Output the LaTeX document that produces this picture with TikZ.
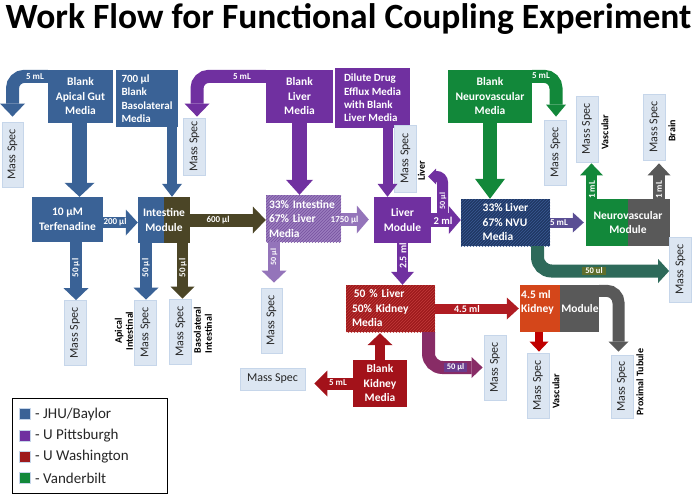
\documentclass[tikz,border=0pt]{standalone}
\usepackage{fontspec}
\setmainfont{Carlito}
\usetikzlibrary{arrows.meta,patterns}
\definecolor{jhu}{HTML}{3A6296}
\definecolor{pur}{HTML}{7030A0}
\definecolor{oliv}{HTML}{4B4526}
\definecolor{grn}{HTML}{12883A}
\definecolor{navy}{HTML}{1F3864}
\definecolor{navyl}{HTML}{3A5A94}
\definecolor{dred}{HTML}{9E1A1C}
\definecolor{dredl}{HTML}{C23A3A}
\definecolor{kred}{HTML}{A3121A}
\definecolor{red2}{HTML}{C00000}
\definecolor{orng}{HTML}{D4461A}
\definecolor{gry}{HTML}{595959}
\definecolor{msf}{HTML}{DCE6F2}
\definecolor{msb}{HTML}{C6D6EA}
\definecolor{lpur}{HTML}{9A7CBE}
\definecolor{lpurl}{HTML}{76519F}
\definecolor{hpur}{HTML}{9474BA}
\definecolor{bpur}{HTML}{5A4E94}
\definecolor{teal2}{HTML}{2E6A5A}
\definecolor{hred}{HTML}{B01C22}
\definecolor{pred}{HTML}{882C66}
\definecolor{lblg}{HTML}{5E6E2C}
\definecolor{lblp}{HTML}{6A3C8E}
\newcommand{\MSt}{\rotatebox{90}{Mass Spec}}
\tikzset{
  box/.style={inner sep=0pt, text=white, font=\fontsize{11.5}{14.5}\selectfont\bfseries, align=center},
  msbox/.style={draw=msb, fill=msf, line width=0.8pt, font=\fontsize{12}{14}\selectfont, text=black!85, minimum width=22pt, minimum height=65pt, inner sep=0pt},
  qty/.style={text=white, font=\fontsize{9}{10}\selectfont\bfseries, inner sep=0.5pt},
  side/.style={text=black, font=\fontsize{10}{11}\selectfont\bfseries, rotate=90, align=center, inner sep=0pt},
  fa/.style n args={3}{line width=#1, -{Triangle[width=#2,length=#3,line width=0pt]}},
  legt/.style={anchor=west, font=\fontsize{15}{16}\selectfont, text=black!85, inner sep=0pt},
  legsq/.style={draw=msb, line width=0.6pt, minimum size=11pt, inner sep=0pt}
}
\begin{document}
\begin{tikzpicture}[x=1pt,y=-1pt]
\useasboundingbox (0,0) rectangle (697,495);
\fill[white] (0,0) rectangle (697,495);

\node[font=\fontsize{35.5}{38}\selectfont\bfseries, inner sep=0pt] (title) at (348.5,19) {Work Flow for Functional Coupling Experiment};

% ---------- boxes ----------
\node[box, fill=jhu, minimum width=65pt, minimum height=53pt] (apical) at (80.5,96.5) {Blank\\Apical Gut\\Media};
\node[box, fill=jhu, minimum width=62pt, minimum height=57pt, align=left, font=\fontsize{11}{13.5}\selectfont\bfseries] (baso) at (147,98.5) {700 µl\\Blank\\Basolateral\\Media};
\node[box, fill=pur, minimum width=67pt, minimum height=53pt] (bliver) at (299.5,96.5) {Blank\\Liver\\Media};
\node[box, fill=pur, minimum width=75pt, minimum height=60pt, align=left, font=\fontsize{11}{13.3}\selectfont\bfseries] (dilute) at (372.5,98) {Dilute Drug\\Efflux Media\\with Blank\\Liver Media};
\node[box, fill=grn, minimum width=84pt, minimum height=53pt] (bnv) at (490,96.5) {Blank\\Neurovascular\\Media};

\node[box, fill=jhu, minimum width=71pt, minimum height=45pt] (terf) at (67.5,219.5) {10 µM\\Terfenadine};
\node[box, fill=jhu, minimum width=52pt, minimum height=46pt,
  path picture={\fill[oliv] (path picture bounding box.north) rectangle (path picture bounding box.south east);}] (intest) at (164,220) {Intestine\\Module};
\node[box, fill=lpur, postaction={pattern=north east lines, pattern color=lpurl}, minimum width=75pt, minimum height=47pt, text width=69pt, inner xsep=3pt, align=left] (mix1) at (303.5,218.5) {33\% Intestine\\67\% Liver\\Media};
\node[box, fill=pur, minimum width=57pt, minimum height=46pt] (livermod) at (402.5,220) {Liver\\Module};
\node[box, fill=navy, postaction={pattern=north east lines, pattern color=navyl}, minimum width=89pt, minimum height=47pt, align=left] (nvumix) at (505.5,222.5) {33\% Liver\\67\% NVU\\Media};
\node[box, fill=grn, minimum width=84pt, minimum height=47pt,
  path picture={\fill[gry] (path picture bounding box.north) rectangle (path picture bounding box.south east);}] (nvmod) at (628,222.5) {Neurovascular\\Module};

\node[box, fill=dred, postaction={pattern=north east lines, pattern color=dredl}, minimum width=89pt, minimum height=47pt, text width=77pt, inner xsep=6pt, align=left] (kmix) at (390.5,308.5) {\,50 \% Liver\\50\% Kidney\\Media};
\node[box, fill=orng, minimum width=79pt, minimum height=47pt,
  path picture={\fill[gry] (path picture bounding box.north) rectangle (path picture bounding box.south east);}] (kidney) at (559.5,308.5) {};
\node[box, anchor=west, align=left] (kt) at (521,308.5) {4.5 ml\\Kidney\\\mbox{}};
\node[box] (km) at (580,308.5) {Module};
\node[box, fill=kred, minimum width=54pt, minimum height=47pt] (bkidney) at (380,383.5) {Blank\\Kidney\\Media};

% ---------- mass spec ----------
\node[msbox, minimum width=21pt] (ms1) at (12.5,154.5) {\MSt};
\node[msbox, minimum height=57pt] (msp1) at (194.5,146.5) {\MSt};
\node[msbox, minimum height=67pt] (msl) at (405.5,158.5) {\MSt};
\node[msbox] (msnv) at (555.5,152.5) {\MSt};
\node[msbox, minimum height=66pt] (msva) at (587,129) {\MSt};
\node[msbox, minimum height=66pt] (msbr) at (654.5,127) {\MSt};
\node[msbox] (mst) at (75,333) {\MSt};
\node[msbox] (msa) at (145.5,332.5) {\MSt};
\node[msbox] (msb) at (180.5,331.5) {\MSt};
\node[msbox, minimum width=21pt] (msm) at (271.5,320.5) {\MSt};
\node[msbox] (msr) at (680.5,269.5) {\MSt};
\node[msbox, minimum width=65pt, minimum height=22pt] (mskl) at (272.5,379) {Mass Spec};
\node[msbox] (msk) at (495,367.5) {\MSt};
\node[msbox] (mskv) at (538,385.5) {\MSt};
\node[msbox, minimum height=63pt] (mskp) at (622,386.5) {\MSt};

% ---------- side labels ----------
\node[side] (lliv) at (421.5,171) {Liver};
\node[side] (lva) at (605,132) {Vascular};
\node[side] (lbr) at (672,131) {Brain};
\node[side] (lap) at (124,331) {Apical\\Intestinal};
\node[side, align=left] (lbi) at (203,330) {Basolateral\\Intestinal};
\node[side] (lkv) at (556,391) {Vascular};
\node[side] (lpt) at (640,382) {Proximal Tubule};

% ---------- connectors ----------
\draw[jhu, fa={13pt}{25pt}{13pt}, rounded corners=12pt] ([yshift=-6.5pt]apical.north west) -| ([yshift=5pt]ms1.north);
\draw[jhu, fa={15pt}{30pt}{14pt}] ([xshift=-1pt]apical.south) -- ([xshift=12pt]terf.north);
\draw[jhu, fa={11pt}{26pt}{12pt}] ([yshift=-3pt]terf.east) -- ([yshift=-2.5pt]intest.west);
\draw[jhu, fa={10pt}{20pt}{13pt}] ([xshift=25pt]baso.south) -- ([xshift=8pt]intest.north);
\draw[oliv, fa={13pt}{27pt}{13pt}] (intest.east) -- ([yshift=-1.5pt]mix1.west);
\draw[jhu, fa={12pt}{25pt}{12pt}] ([xshift=8.5pt]terf.south) -- ([xshift=1pt]mst.north);
\draw[jhu, fa={12pt}{25pt}{12pt}] ([xshift=-18pt]intest.south) -- ([xshift=0.5pt]msa.north);
\draw[oliv, fa={11pt}{24pt}{12pt}] ([xshift=18.5pt]intest.south) -- ([xshift=2pt]msb.north);
\draw[pur, fa={13pt}{25pt}{13pt}, rounded corners=12pt] ([yshift=-6.5pt]bliver.north west) -| ([xshift=2.5pt,yshift=1pt]msp1.north);
\draw[pur, fa={15pt}{27pt}{15pt}] (bliver.south) -- ([xshift=-4pt]mix1.north);
\draw[hpur, fa={13pt}{28pt}{12pt}] ([yshift=-1pt]mix1.east) -- ([xshift=-5pt,yshift=0.5pt]livermod.west);
\draw[hpur, fa={12pt}{25pt}{12pt}] ([xshift=-29.5pt]mix1.south) -- ([xshift=2.5pt,yshift=5pt]msm.north);
\draw[pur, fa={10pt}{20pt}{13pt}] ([xshift=15pt]dilute.south) -- ([xshift=-15pt]livermod.north);
\draw[pur, fa={14pt}{28pt}{12pt}] (livermod.east) -- ([yshift=2.5pt]nvumix.west);
\coordinate (c50a) at (442.5,214);
\coordinate (c50b) at (428,176.5);
\draw[pur, fa={11pt}{16pt}{8pt}, rounded corners=6pt] (c50a) |- (c50b);
\draw[grn, fa={14pt}{30pt}{20pt}] (bnv.south) -- ([xshift=-15.5pt]nvumix.north);
\draw[grn, fa={13pt}{20pt}{12pt}, rounded corners=12pt] ([yshift=-6.5pt]bnv.north east) -| ([xshift=0.5pt,yshift=3pt]msnv.north);
\draw[bpur, fa={10pt}{20pt}{11pt}] (nvumix.east) -- ([xshift=-2pt]nvmod.west);
\draw[grn, fa={11pt}{23pt}{12pt}] ([xshift=-36.5pt]nvmod.north) -- ([xshift=4.5pt,yshift=-1pt]msva.south);
\draw[gry, fa={12pt}{23pt}{12pt}] ([xshift=31pt]nvmod.north) -- ([xshift=4.5pt,yshift=-3pt]msbr.south);
\draw[teal2, fa={13pt}{24pt}{11pt}, rounded corners=14pt] ([xshift=32pt]nvumix.south) |- ([yshift=-1.5pt]msr.west);
\draw[pur, fa={11pt}{23pt}{13pt}] (livermod.south) -- ([xshift=12pt]kmix.north);
\draw[hred, fa={10pt}{22pt}{12pt}] (kmix.east) -- ([xshift=-1pt]kidney.west);
\draw[pred, fa={13pt}{21pt}{11pt}, rounded corners=14pt] ([xshift=38pt]kmix.south) |- ([xshift=-1pt]msk.west);
\draw[kred, fa={10pt}{25pt}{12pt}] (bkidney.north) -- ([xshift=-10.5pt,yshift=-1pt]kmix.south);
\draw[kred, fa={12pt}{26pt}{13pt}] (bkidney.west) -- ([xshift=9pt,yshift=-4.5pt]mskl.east);
\draw[red2, fa={8pt}{19pt}{10pt}] ([xshift=-20.5pt]kidney.south) -- ([xshift=1pt,yshift=1pt]mskv.north);
\draw[gry, fa={12pt}{20pt}{10pt}, rounded corners=12pt] ([yshift=-6pt]kidney.north east) -| ([xshift=-3.5pt,yshift=3pt]mskp.north);

% ---------- quantity labels ----------
\node[qty] (q5a) at (35,77) {5 mL};
\node[qty] (q5b) at (242,77) {5 mL};
\node[qty] (q5c) at (541,76) {5 mL};
\node[qty] (q200) at (115,222.5) {200 µl};
\node[qty] (q600) at (218,220) {600 µl};
\node[qty, rotate=90] (q50a) at (76,268) {50 µl};
\node[qty, rotate=90] (q50b) at (146,268) {50 µl};
\node[qty, rotate=90] (q50c) at (183,268) {50 µl};
\node[qty] (q1750) at (344.5,220) {1750 µl};
\node[qty, rotate=90, font=\fontsize{8}{9}\selectfont\bfseries] (q50d) at (274,257) {50 µl};
\node[qty, font=\fontsize{10.5}{11}\selectfont\bfseries] (q2) at (443,221) {2 ml};
\node[qty, rotate=90, font=\fontsize{8}{9}\selectfont\bfseries] (q50e) at (443,201) {50 µl};
\node[qty] (q5d) at (559,223) {5 mL};
\node[qty, rotate=90] (q1a) at (592,190) {1 mL};
\node[qty, rotate=90] (q1b) at (659,190) {1 mL};
\node[qty, fill=lblg, inner xsep=3pt, font=\fontsize{8.5}{9}\selectfont\bfseries] (q50u) at (594,271) {50 ul};
\node[qty, rotate=90, font=\fontsize{10}{11}\selectfont\bfseries] (q25) at (403,256) {2.5 ml};
\node[qty, font=\fontsize{10}{11}\selectfont\bfseries] (q45) at (467,309) {4.5 ml};
\node[qty, fill=lblp, inner xsep=3pt, font=\fontsize{8.5}{9}\selectfont\bfseries] (q50k) at (455.5,367.5) {50 µl};
\node[qty] (q5e) at (338,383) {5 mL};

% ---------- legend ----------
\node[draw=black, line width=0.8pt, fill=white, minimum width=155pt, minimum height=95pt, inner sep=0pt] (leg) at (89.5,445.5) {};
\node[legsq, fill=jhu] (lg1) at (25,414) {};
\node[legsq, fill=pur] (lg2) at (25,435.5) {};
\node[legsq, fill=dred] (lg3) at (25,457) {};
\node[legsq, fill=grn] (lg4) at (25,478) {};
\node[legt] (lt1) at (35,414) {- JHU/Baylor};
\node[legt] (lt2) at (35,435.5) {- U Pittsburgh};
\node[legt] (lt3) at (35,457) {- U Washington};
\node[legt] (lt4) at (35,478) {- Vanderbilt};
\end{tikzpicture}
\end{document}
